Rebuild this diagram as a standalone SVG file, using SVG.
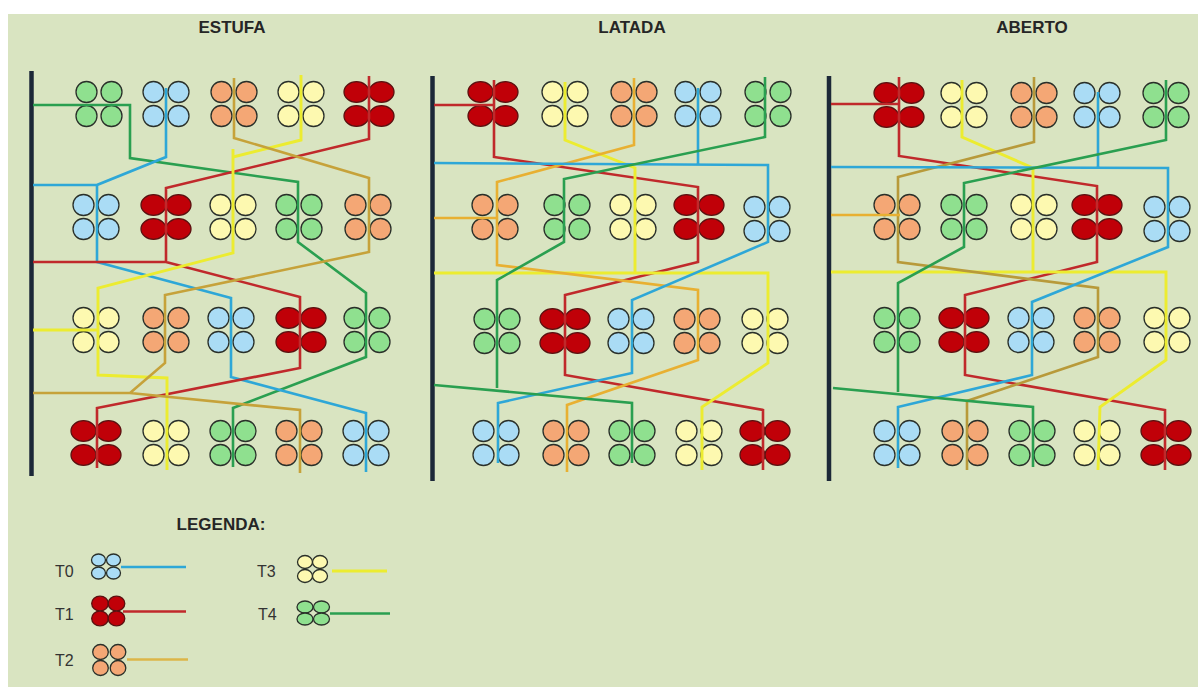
<svg xmlns="http://www.w3.org/2000/svg" xmlns:xlink="http://www.w3.org/1999/xlink" width="1198" height="687" viewBox="0 0 1198 687">
<style>
.bg{fill:#d9e4c1}
.title{font-family:"Liberation Sans",Arial,sans-serif;font-weight:bold;font-size:17px;fill:#262626;text-anchor:middle}
.lg{font-family:"Liberation Sans",Arial,sans-serif;font-size:16px;fill:#333}
.bar{stroke:#1c2838;stroke-width:4.5;fill:none}
.q circle,.q ellipse{stroke:#2a302a;stroke-width:1.3}
.q.f1 ellipse{stroke:#5a1010}
.f0{fill:#aadcf5}.f1{fill:#c00008}.f2{fill:#f4a775}.f3{fill:#fdf9b0}.f4{fill:#8fe08f}
.ln{fill:none;stroke-width:2.6;stroke-linejoin:miter}
.l0{stroke:#2ea7d7}.l1{stroke:#c0292b}.l2a{stroke:#c6a23a}.l2b{stroke:#e8b032}.l2c{stroke:#b89a3a}.l2d{stroke:#dcb648}.l3{stroke:#ecec30;stroke-width:2.9}.l4{stroke:#2a9f50}
</style>
<defs>
<g id="c0" class="q f0"><circle cx="-12.5" cy="-12" r="10.5"/><circle cx="12.5" cy="-12" r="10.5"/><circle cx="-12.5" cy="12" r="10.5"/><circle cx="12.5" cy="12" r="10.5"/></g>
<g id="c1" class="q f1"><ellipse cx="-12.5" cy="-12" rx="12.5" ry="10.3"/><ellipse cx="12.5" cy="-12" rx="12.5" ry="10.3"/><ellipse cx="-12.5" cy="12" rx="12.5" ry="10.3"/><ellipse cx="12.5" cy="12" rx="12.5" ry="10.3"/></g>
<g id="c2" class="q f2"><circle cx="-12.5" cy="-12" r="10.5"/><circle cx="12.5" cy="-12" r="10.5"/><circle cx="-12.5" cy="12" r="10.5"/><circle cx="12.5" cy="12" r="10.5"/></g>
<g id="c3" class="q f3"><circle cx="-12.5" cy="-12" r="10.5"/><circle cx="12.5" cy="-12" r="10.5"/><circle cx="-12.5" cy="12" r="10.5"/><circle cx="12.5" cy="12" r="10.5"/></g>
<g id="c4" class="q f4"><circle cx="-12.5" cy="-12" r="10.5"/><circle cx="12.5" cy="-12" r="10.5"/><circle cx="-12.5" cy="12" r="10.5"/><circle cx="12.5" cy="12" r="10.5"/></g>
</defs>
<rect x="0" y="0" width="1198" height="687" fill="#ffffff"/>
<rect class="bg" x="8" y="14" width="1190" height="673"/>

<g id="titles">
<text class="title" x="232" y="33">ESTUFA</text>
<text class="title" x="632" y="33">LATADA</text>
<text class="title" x="1032" y="33">ABERTO</text>
</g>

<g id="bars">
<line class="bar" x1="31.5" y1="71" x2="31.5" y2="476"/>
<line class="bar" x1="432.5" y1="76" x2="432.5" y2="481"/>
<line class="bar" x1="829" y1="76" x2="829" y2="481"/>
</g>

<!-- ESTUFA nodes -->
<g id="estufa-r1-t4"><use href="#c4" x="99" y="104"/></g>
<g id="estufa-r1-t0"><use href="#c0" x="166" y="104"/></g>
<g id="estufa-r1-t2"><use href="#c2" x="234" y="104"/></g>
<g id="estufa-r1-t3"><use href="#c3" x="301" y="104"/></g>
<g id="estufa-r1-t1"><use href="#c1" x="369" y="104"/></g>
<g id="estufa-r2-t0"><use href="#c0" x="96" y="217"/></g>
<g id="estufa-r2-t1"><use href="#c1" x="166" y="217"/></g>
<g id="estufa-r2-t3"><use href="#c3" x="233" y="217"/></g>
<g id="estufa-r2-t4"><use href="#c4" x="299" y="217"/></g>
<g id="estufa-r2-t2"><use href="#c2" x="368" y="217"/></g>
<g id="estufa-r3-t3"><use href="#c3" x="96" y="330"/></g>
<g id="estufa-r3-t2"><use href="#c2" x="166" y="330"/></g>
<g id="estufa-r3-t0"><use href="#c0" x="231" y="330"/></g>
<g id="estufa-r3-t1"><use href="#c1" x="301" y="330"/></g>
<g id="estufa-r3-t4"><use href="#c4" x="367" y="330"/></g>
<g id="estufa-r4-t1"><use href="#c1" x="96" y="443"/></g>
<g id="estufa-r4-t3"><use href="#c3" x="166" y="443"/></g>
<g id="estufa-r4-t4"><use href="#c4" x="233" y="443"/></g>
<g id="estufa-r4-t2"><use href="#c2" x="299" y="443"/></g>
<g id="estufa-r4-t0"><use href="#c0" x="366" y="443"/></g>

<!-- LATADA nodes -->
<g id="latada-r1-t1"><use href="#c1" x="493" y="104"/></g>
<g id="latada-r1-t3"><use href="#c3" x="565" y="104"/></g>
<g id="latada-r1-t2"><use href="#c2" x="634" y="104"/></g>
<g id="latada-r1-t0"><use href="#c0" x="698" y="104"/></g>
<g id="latada-r1-t4"><use href="#c4" x="768" y="104"/></g>
<g id="latada-r2-t2"><use href="#c2" x="495" y="217"/></g>
<g id="latada-r2-t4"><use href="#c4" x="567" y="217"/></g>
<g id="latada-r2-t3"><use href="#c3" x="633" y="217"/></g>
<g id="latada-r2-t1"><use href="#c1" x="699" y="217"/></g>
<g id="latada-r2-t0"><use href="#c0" x="767" y="219"/></g>
<g id="latada-r3-t4"><use href="#c4" x="497" y="331"/></g>
<g id="latada-r3-t1"><use href="#c1" x="565" y="331"/></g>
<g id="latada-r3-t0"><use href="#c0" x="631" y="331"/></g>
<g id="latada-r3-t2"><use href="#c2" x="697" y="331"/></g>
<g id="latada-r3-t3"><use href="#c3" x="765" y="331"/></g>
<g id="latada-r4-t0"><use href="#c0" x="496" y="443"/></g>
<g id="latada-r4-t2"><use href="#c2" x="566" y="443"/></g>
<g id="latada-r4-t4"><use href="#c4" x="632" y="443"/></g>
<g id="latada-r4-t3"><use href="#c3" x="699" y="443"/></g>
<g id="latada-r4-t1"><use href="#c1" x="765" y="443"/></g>

<!-- ABERTO nodes -->
<g id="aberto-r1-t1"><use href="#c1" x="899" y="105"/></g>
<g id="aberto-r1-t3"><use href="#c3" x="964" y="105"/></g>
<g id="aberto-r1-t2"><use href="#c2" x="1034" y="105"/></g>
<g id="aberto-r1-t0"><use href="#c0" x="1097" y="105"/></g>
<g id="aberto-r1-t4"><use href="#c4" x="1166" y="105"/></g>
<g id="aberto-r2-t2"><use href="#c2" x="897" y="217"/></g>
<g id="aberto-r2-t4"><use href="#c4" x="964" y="217"/></g>
<g id="aberto-r2-t3"><use href="#c3" x="1034" y="217"/></g>
<g id="aberto-r2-t1"><use href="#c1" x="1097" y="217"/></g>
<g id="aberto-r2-t0"><use href="#c0" x="1167" y="219"/></g>
<g id="aberto-r3-t4"><use href="#c4" x="897" y="330"/></g>
<g id="aberto-r3-t1"><use href="#c1" x="964" y="330"/></g>
<g id="aberto-r3-t0"><use href="#c0" x="1031" y="330"/></g>
<g id="aberto-r3-t2"><use href="#c2" x="1097" y="330"/></g>
<g id="aberto-r3-t3"><use href="#c3" x="1167" y="330"/></g>
<g id="aberto-r4-t0"><use href="#c0" x="897" y="443"/></g>
<g id="aberto-r4-t2"><use href="#c2" x="965" y="443"/></g>
<g id="aberto-r4-t4"><use href="#c4" x="1032" y="443"/></g>
<g id="aberto-r4-t3"><use href="#c3" x="1097" y="443"/></g>
<g id="aberto-r4-t1"><use href="#c1" x="1166" y="443"/></g>

<g id="connectors">
<!-- ESTUFA -->
<path class="ln l4" d="M33,105 H130 V158 L298,182 V242 L366,293 V357 L233,408 V467"/>
<path class="ln l0" d="M166,88 V157 L97,185 V262 L231,298 V377 L366,413 V472 M33,185 H97"/>
<path class="ln l1" d="M369,76 V139 L166,188 V262 L300,297 V368 L97,408 V468 M33,262 H166"/>
<path class="ln l3" d="M301,75 V140 L233,157 M233,149 V253 L98,288 V375 L167,378 V470 M33,330 H98"/>
<path class="ln l2a" d="M234,78 V138 L369,178 V252 L165,295 V363 L130,393 M33,393 H130 L300,410 V473"/>
<!-- LATADA -->
<path class="ln l1" d="M494,80 V157 L698,187 V262 L565,295 V375 L763,410 V470 M434,105 H494"/>
<path class="ln l3" d="M565,82 V140 L635,168 V273 M434,273 H768 V363 L702,407 V470"/>
<path class="ln l2b" d="M634,78 V145 L497,182 V265 L698,290 V360 L567,405 V472 M434,218 H497"/>
<path class="ln l0" d="M698,88 V164 M434,163 L768,165 V242 L632,300 V373 L498,403 V463"/>
<path class="ln l4" d="M765,77 V137 L564,179 V242 L497,280 V388 M434,385 L632,403 V463"/>
<!-- ABERTO -->
<path class="ln l1" d="M899,77 V156 L1097,186 V262 L965,295 V375 L1165,410 V470 M831,104 H899"/>
<path class="ln l3" d="M962,80 V137 L1033,168 V272 M831,272 H1166 V360 L1100,407 L1098,470"/>
<path class="ln l2c" d="M1034,77 V142 L898,177 V262 L1098,288 V357 L967,401 V470"/>
<path class="ln l2b" d="M831,215 H900"/>
<path class="ln l0" d="M1098,92 V168 M831,167 L1168,168 V247 L1032,302 V375 L898,407 V468"/>
<path class="ln l4" d="M1166,80 V140 L964,183 V247 L898,283 V392 M833,388 L1033,407 V467"/>
</g>

<g id="legend">
<text class="title" x="221" y="530">LEGENDA:</text>
<g id="legend-t0">
<text class="lg" x="55" y="577">T0</text>
<g class="q f0"><ellipse cx="98.5" cy="560" rx="7" ry="6"/><ellipse cx="113.5" cy="560" rx="7" ry="6"/><ellipse cx="98.5" cy="573" rx="7" ry="6"/><ellipse cx="113.5" cy="573" rx="7" ry="6"/></g>
<path class="ln l0" d="M121,567 H186"/>
</g>
<g id="legend-t1">
<text class="lg" x="55" y="620">T1</text>
<g class="q f1"><ellipse cx="100" cy="603.5" rx="8.3" ry="7.3"/><ellipse cx="116.5" cy="603.5" rx="8.3" ry="7.3"/><ellipse cx="100" cy="618.5" rx="8.3" ry="7.3"/><ellipse cx="116.5" cy="618.5" rx="8.3" ry="7.3"/></g>
<path class="ln l1" d="M123,611.5 H186"/>
</g>
<g id="legend-t2">
<text class="lg" x="55" y="666">T2</text>
<g class="q f2"><ellipse cx="100.5" cy="652" rx="7.8" ry="7.5"/><ellipse cx="118" cy="652" rx="7.8" ry="7.5"/><ellipse cx="100.5" cy="668" rx="7.8" ry="7.5"/><ellipse cx="118" cy="668" rx="7.8" ry="7.5"/></g>
<path class="ln l2d" d="M127,659.5 H188"/>
</g>
<g id="legend-t3">
<text class="lg" x="257" y="577">T3</text>
<g class="q f3"><ellipse cx="305" cy="562" rx="7.5" ry="6.5"/><ellipse cx="320" cy="562" rx="7.5" ry="6.5"/><ellipse cx="305" cy="576" rx="7.5" ry="6.5"/><ellipse cx="320" cy="576" rx="7.5" ry="6.5"/></g>
<path class="ln l3" d="M332,571 H387"/>
</g>
<g id="legend-t4">
<text class="lg" x="258" y="620">T4</text>
<g class="q f4"><ellipse cx="305" cy="607" rx="8" ry="6"/><ellipse cx="321.5" cy="607" rx="8" ry="6"/><ellipse cx="305" cy="619" rx="8" ry="6"/><ellipse cx="321.5" cy="619" rx="8" ry="6"/></g>
<path class="ln l4" d="M330,613.5 H390"/>
</g>
</g>
</svg>
